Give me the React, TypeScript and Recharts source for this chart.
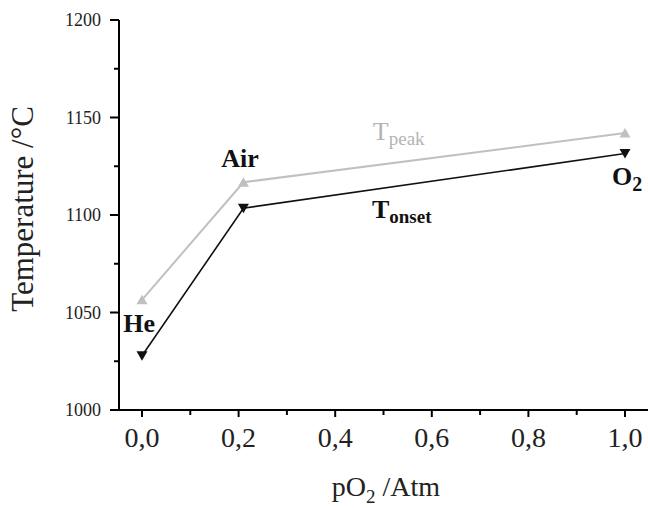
import React from 'react';
import { LineChart, Line, XAxis, YAxis, ReferenceDot } from 'recharts';

const pO2 = [0, 0.21, 1.0];
const tPeak = [1056.5, 1116.8, 1142];
const tOnset = [1027.8, 1103.5, 1131.5];
const xTicks = [0, 0.1, 0.2, 0.3, 0.4, 0.5, 0.6, 0.7, 0.8, 0.9, 1.0];
const xMajor = [0, 0.2, 0.4, 0.6, 0.8, 1.0];
const yTicks = [1000, 1025, 1050, 1075, 1100, 1125, 1150, 1175, 1200];
const yMajor = [1000, 1050, 1100, 1150, 1200];
const annotations = [
  { main: 'He', sub: '', x: -0.006, y: 1040, color: '#111', bold: true, anchor: 'middle' },
  { main: 'Air', sub: '', x: 0.203, y: 1124.6, color: '#111', bold: true, anchor: 'middle' },
  { main: 'O', sub: '2', x: 0.973, y: 1115.4, color: '#111', bold: true, anchor: 'start' },
  { main: 'T', sub: 'peak', x: 0.478, y: 1138.5, color: '#b4b4b4', bold: false, anchor: 'start' },
  { main: 'T', sub: 'onset', x: 0.476, y: 1098.5, color: '#111', bold: true, anchor: 'start' },
];

const data = pO2.map((x, i) => ({ x, peak: tPeak[i], onset: tOnset[i] }));

const FONT = '"Liberation Serif", "Times New Roman", serif';

const YTick = (props: any) => {
  const { x, y, payload } = props;
  const major = yMajor.includes(payload.value);
  return (
    <g>
      <line x1={x} x2={x - (major ? 9 : 5)} y1={y} y2={y} stroke="#000" strokeWidth={2} />
      {major && (
        <text x={x - 18} y={y} dy="0.35em" textAnchor="end" fontSize={18} fontFamily={FONT} fill="#222">
          {payload.value}
        </text>
      )}
    </g>
  );
};

const XTick = (props: any) => {
  const { x, y, payload } = props;
  const major = xMajor.some((m) => Math.abs(m - payload.value) < 1e-6);
  return (
    <g>
      <line x1={x} x2={x} y1={y} y2={y + (major ? 7 : 5)} stroke="#000" strokeWidth={2} />
      {major && (
        <text x={x} y={y + 37} textAnchor="middle" fontSize={28} fontFamily={FONT} fill="#222">
          {payload.value.toFixed(1).replace('.', ',')}
        </text>
      )}
    </g>
  );
};

const UpTri = (props: any) => {
  const { cx, cy } = props;
  if (cx == null || cy == null) return null;
  return <path d={`M${cx - 5.5},${cy + 4.5} L${cx + 5.5},${cy + 4.5} L${cx},${cy - 5} Z`} fill="#c0c0c0" />;
};

const DownTri = (props: any) => {
  const { cx, cy } = props;
  if (cx == null || cy == null) return null;
  return <path d={`M${cx - 5.5},${cy - 4.5} L${cx + 5.5},${cy - 4.5} L${cx},${cy + 5} Z`} fill="#111" />;
};

const makeAnnot = (a: any) => (props: any) => {
  const { cx, cy } = props;
  return (
    <text
      x={cx}
      y={cy}
      textAnchor={a.anchor}
      fontFamily={FONT}
      fill={a.color}
      fontWeight={a.bold ? 'bold' : 'normal'}
      fontSize={26}
    >
      <tspan>{a.main}</tspan>
      {a.sub && (
        <tspan dy={a.sub === '2' ? 6 : 5} fontSize={a.sub === '2' ? 20 : 19}>
          {a.sub}
        </tspan>
      )}
    </text>
  );
};

export default function App() {
  return (
    <div style={{ position: 'absolute', left: 0, top: 0, width: 648, height: 508, background: '#fff' }}>
      <LineChart width={648} height={508} data={data} margin={{ top: 20, right: 0, left: 0, bottom: 0 }}>
        <XAxis
          dataKey="x"
          type="number"
          domain={[-0.0476, 1.0476]}
          ticks={xTicks}
          tick={<XTick />}
          tickLine={false}
          tickSize={0}
          tickMargin={0}
          height={98}
          axisLine={{ stroke: '#000', strokeWidth: 2 }}
          interval={0}
          allowDataOverflow
          label={{
            content: () => (
              <text x={386} y={496} textAnchor="middle" fontFamily={FONT} fontSize={28} fill="#222">
                <tspan>pO</tspan>
                <tspan dy={7} fontSize={19}>2</tspan>
                <tspan dy={-7}> /Atm</tspan>
              </text>
            ),
          }}
        />
        <YAxis
          type="number"
          domain={[1000, 1200]}
          ticks={yTicks}
          tick={<YTick />}
          tickLine={false}
          tickSize={0}
          tickMargin={0}
          width={119}
          axisLine={{ stroke: '#000', strokeWidth: 2 }}
          interval={0}
          allowDataOverflow
          label={{
            content: () => (
              <text
                x={33}
                y={209}
                transform="rotate(-90 33 209)"
                textAnchor="middle"
                fontFamily={FONT}
                fontSize={31}
                fill="#222"
              >
                Temperature /°C
              </text>
            ),
          }}
        />
        <Line
          dataKey="peak"
          stroke="#c0c0c0"
          strokeWidth={2}
          dot={<UpTri />}
          activeDot={false}
          isAnimationActive={false}
        />
        <Line
          dataKey="onset"
          stroke="#111"
          strokeWidth={1.6}
          dot={<DownTri />}
          activeDot={false}
          isAnimationActive={false}
        />
        {annotations.map((a, i) => (
          <ReferenceDot key={i} x={a.x} y={a.y} r={0} shape={makeAnnot(a)} ifOverflow="visible" />
        ))}
      </LineChart>
    </div>
  );
}
